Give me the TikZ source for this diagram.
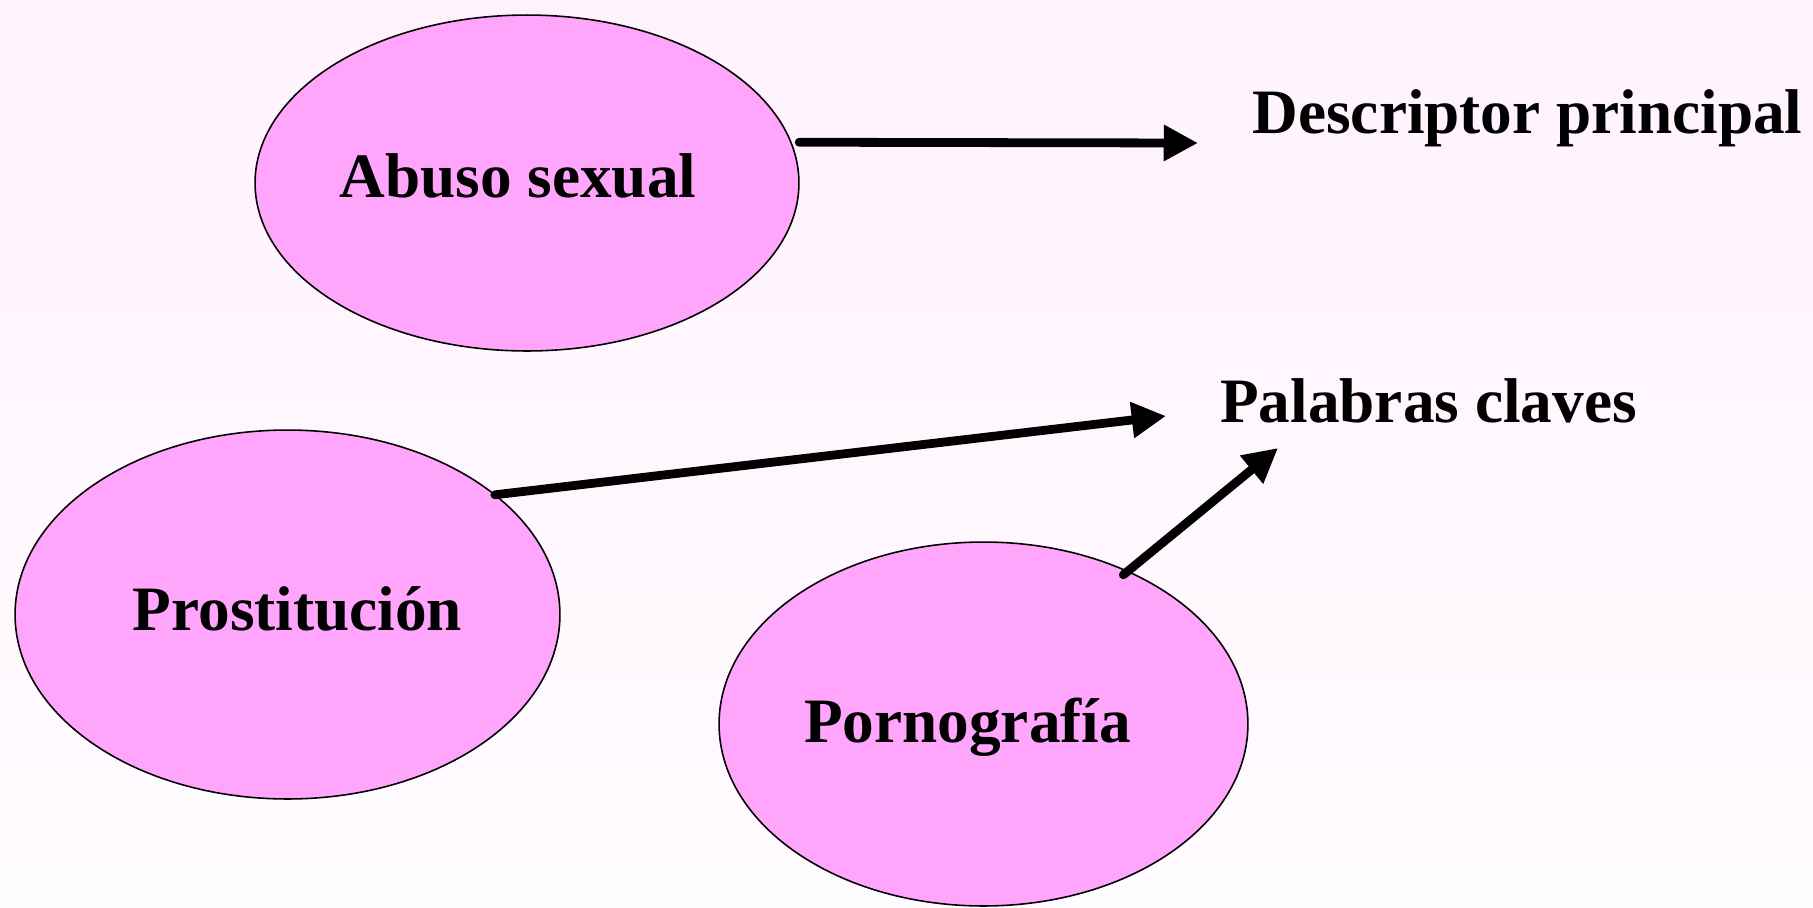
\documentclass[tikz,border=0pt]{standalone}
\usepackage{fontspec}
\setmainfont{Liberation Serif}
\usetikzlibrary{shapes.geometric,arrows.meta}
\definecolor{bgtop}{RGB}{255,242,253}
\definecolor{bgbot}{RGB}{255,252,255}
\definecolor{blobfill}{RGB}{255,166,252}
\tikzset{
  blob/.style={ellipse, draw=black, line width=0.9pt, fill=blobfill, inner sep=0pt, outer sep=0pt},
  lbl/.style={anchor=base, inner sep=0pt, font=\fontsize{36}{40}\selectfont\bfseries},
  conn/.style={line width=5pt, line cap=round, -{Triangle[length=19.5pt,width=19.5pt]}}
}
\begin{document}
\begin{tikzpicture}[x=0.02cm,y=-0.02cm]
\useasboundingbox (0,0) rectangle (1813,907);
\shade[top color=bgtop, bottom color=bgbot] (0,0) rectangle (1813,907);
% ellipses
\node[blob, minimum width=10.88cm, minimum height=6.72cm] (e1) at (527,183) {};
\node[blob, minimum width=10.9cm, minimum height=7.38cm] (e2) at (287.5,614.5) {};
\node[blob, minimum width=10.58cm, minimum height=7.28cm] (e3) at (983.5,724) {};
% labels
\node[lbl] (t1) at (518,197) {Abuso sexual};
\node[lbl] (t2) at (297.5,630) {Prostitución};
\node[lbl] (t3) at (967.5,742) {Pornografía};
\node[lbl] (desc) at (1527.5,133) {Descriptor principal};
\node[lbl] (pal) at (1428.5,422) {Palabras claves};
% arrow tips
\coordinate (tip1) at (1198,143);
\coordinate (tip2) at (1166,416);
\coordinate (tip3) at (1278,448);
% connectors
\draw[conn] ([xshift=0.14cm,yshift=0.07cm]e1.8.6) -- (tip1);
\draw[conn] (e2.30.3) -- (tip2);
\draw[conn] ([xshift=-0.06cm,yshift=-0.08cm]e3.47.3) -- (tip3);
\end{tikzpicture}
\end{document}
